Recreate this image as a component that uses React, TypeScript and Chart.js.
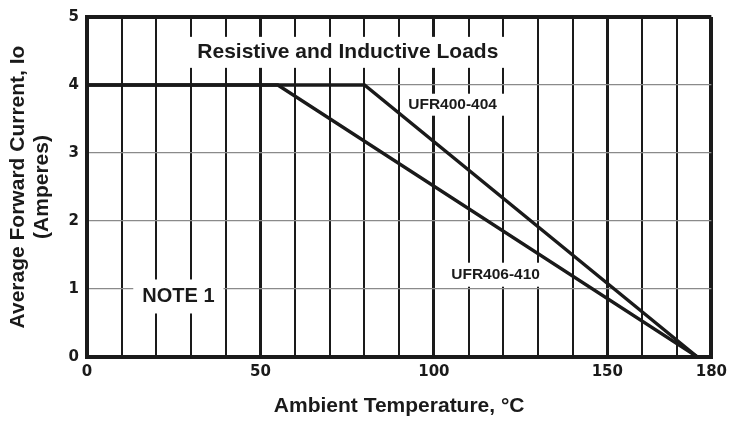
import React, { useEffect, useRef } from "react";
import { Chart, registerables } from "chart.js";

Chart.register(...registerables);

// ---- data ----
const tempUFR400 = [0, 80, 176];
const currentUFR400 = [4, 4, 0];
const tempUFR406 = [0, 55, 176];
const currentUFR406 = [4, 4, 0];

const xGridValues = [0, 10, 20, 30, 40, 50, 60, 70, 80, 90, 100, 110, 120, 130, 140, 150, 160, 170, 180];
const xTickLabels = [0, 50, 100, 150, 180];
const yTickValues = [0, 1, 2, 3, 4, 5];

const xTitle = "Ambient Temperature, °C";
const yTitle = ["Average Forward Current, Io", "(Amperes)"];

const labelTexts = ["Resistive and Inductive Loads", "UFR400-404", "UFR406-410", "NOTE 1"];

// label placement (data coordinates) and styling
const LABELS = [
  { text: labelTexts[0], x: 75.2, y: 4.48, size: 21, padX: 11, boxH: 31 },
  { text: labelTexts[1], x: 105.4, y: 3.71, size: 15.5, padX: 8, boxH: 22 },
  { text: labelTexts[2], x: 117.8, y: 1.21, size: 15.5, padX: 5, boxH: 24 },
  { text: labelTexts[3], x: 26.35, y: 0.89, size: 20, padX: 9, boxH: 34 },
];

const INK = "#1a1a1a";
const FONT = '"Liberation Sans", Arial, Helvetica, sans-serif';

const boxedLabels = {
  id: "boxedLabels",
  beforeDatasetsDraw(chart: any) {
    const { ctx, scales } = chart;
    const xs = scales.x;
    const ys = scales.y;
    for (const l of LABELS) {
      ctx.save();
      ctx.font = `bold ${l.size}px ${FONT}`;
      const w = ctx.measureText(l.text).width;
      const cx = xs.getPixelForValue(l.x);
      const cy = ys.getPixelForValue(l.y);
      ctx.fillStyle = "#ffffff";
      ctx.fillRect(cx - w / 2 - l.padX, cy - l.boxH / 2, w + 2 * l.padX, l.boxH);
      ctx.fillStyle = INK;
      ctx.textAlign = "center";
      ctx.textBaseline = "middle";
      ctx.fillText(l.text, cx, cy);
      ctx.restore();
    }
  },
};

export default function App() {
  const canvasRef = useRef<HTMLCanvasElement | null>(null);

  useEffect(() => {
    document.body.style.margin = "0";
    const canvas = canvasRef.current;
    if (!canvas) return;

    const chart = new Chart(canvas, {
      type: "line",
      data: {
        datasets: [
          {
            label: "UFR400-404",
            data: tempUFR400.map((t, i) => ({ x: t, y: currentUFR400[i] })),
            borderColor: INK,
            borderWidth: 3.3,
            pointRadius: 0,
            tension: 0,
          },
          {
            label: "UFR406-410",
            data: tempUFR406.map((t, i) => ({ x: t, y: currentUFR406[i] })),
            borderColor: INK,
            borderWidth: 3.3,
            pointRadius: 0,
            tension: 0,
          },
        ],
      },
      options: {
        responsive: false,
        animation: false,
        events: [],
        layout: { padding: { left: 0, right: 21, top: 11, bottom: 0 } },
        plugins: {
          legend: { display: false },
          tooltip: { enabled: false },
          title: { display: false },
        },
        scales: {
          x: {
            type: "linear",
            min: 0,
            max: 180,
            afterBuildTicks: (scale: any) => {
              scale.ticks = xGridValues.map((v) => ({ value: v }));
            },
            afterFit: (scale: any) => {
              scale.height = 64;
            },
            ticks: {
              autoSkip: false,
              maxRotation: 0,
              padding: 6,
              color: INK,
              font: { family: '"DejaVu Sans", sans-serif', weight: "bold", size: 15 },
              callback: (v: any) => (xTickLabels.includes(Number(v)) ? String(v) : ""),
            },
            grid: {
              drawTicks: false,
              color: INK,
              lineWidth: (c: any) => {
                const v = c.tick ? c.tick.value : 0;
                if (v === 0 || v === 180) return 4;
                if (v % 50 === 0) return 3;
                return 2;
              },
            },
            border: { display: true, color: INK, width: 4 },
            title: {
              display: true,
              text: xTitle,
              color: INK,
              font: { family: FONT, weight: "bold", size: 21, lineHeight: 1.2 },
              padding: { top: 0, bottom: 2 },
            },
          },
          y: {
            type: "linear",
            min: 0,
            max: 5,
            afterBuildTicks: (scale: any) => {
              scale.ticks = yTickValues.map((v) => ({ value: v }));
            },
            afterFit: (scale: any) => {
              scale.width = 87;
            },
            ticks: {
              padding: 8,
              color: INK,
              font: { family: '"DejaVu Sans", sans-serif', weight: "bold", size: 15 },
            },
            grid: {
              drawTicks: false,
              color: (c: any) => {
                const v = c.tick ? c.tick.value : 0;
                return v === 5 || v === 0 ? INK : "#8a8a8a";
              },
              lineWidth: (c: any) => {
                const v = c.tick ? c.tick.value : 0;
                return v === 5 || v === 0 ? 4 : 1.3;
              },
            },
            border: { display: true, color: INK, width: 4 },
            title: {
              display: true,
              text: yTitle,
              color: INK,
              font: { family: FONT, weight: "bold", size: 21, lineHeight: 1.15 },
              padding: { top: 6, bottom: 0 },
            },
          },
        },
      },
      plugins: [boxedLabels],
    });

    return () => chart.destroy();
  }, []);

  return (
    <div style={{ width: 733, height: 421, background: "#fff" }}>
      <canvas ref={canvasRef} width={733} height={421} style={{ display: "block" }} />
    </div>
  );
}
